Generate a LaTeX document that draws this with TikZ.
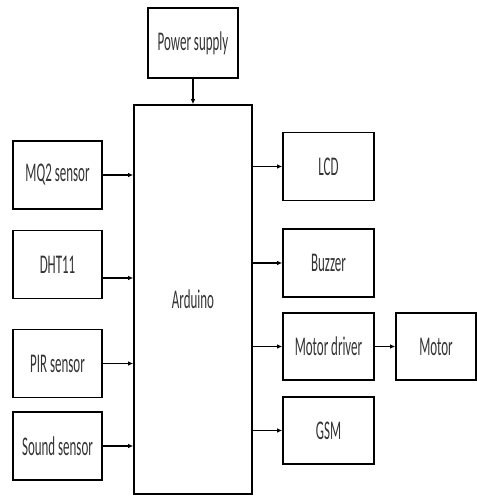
\documentclass[tikz,border=0pt]{standalone}
\usepackage{fontspec}
\setmainfont{Carlito}[FakeStretch=0.48]
\usetikzlibrary{arrows.meta}

\begin{document}
\begin{tikzpicture}[x=1pt, y=-1pt,
  blockbox/.style={draw, line width=1.6pt, align=center, minimum width=89pt,
    minimum height=68pt, inner sep=0pt, text=black!80, font=\fontsize{27}{30}\selectfont},
  flowarrow/.style={-{Latex[length=5pt,width=4.5pt]}, line width=1.6pt}
]
  \useasboundingbox (0,0) rectangle (477,496);

  \node[blockbox, minimum width=90pt, minimum height=70pt] (power) at (193,43) {Power supply};
  \node[blockbox, minimum width=118pt, minimum height=389pt] (arduino) at (193,299.5) {Arduino};

  % sensors
  \node[blockbox] (mq2) at (57.5,175) {MQ2 sensor};
  \node[blockbox] (dht) at (57.5,264.5) {DHT11};
  \node[blockbox] (pir) at (57.5,363.5) {PIR sensor};
  \node[blockbox] (sound) at (57.5,446) {Sound sensor};

  % outputs
  \node[blockbox, minimum width=91pt] (lcd) at (328.5,166.5) {LCD};
  \node[blockbox, minimum width=91pt] (buzzer) at (328.5,263) {Buzzer};
  \node[blockbox, minimum width=91pt, minimum height=67pt] (driver) at (328.5,346.5) {Motor driver};
  \node[blockbox, minimum width=91pt, minimum height=67pt] (gsm) at (328.5,430.5) {GSM};
  \node[blockbox, minimum width=80pt, minimum height=67pt] (motor) at (436,346.5) {Motor};

  \draw[flowarrow] (power) -- (arduino);
  \draw[flowarrow] (mq2) -- (mq2 -| arduino.west);
  \draw[flowarrow] ([yshift=-13.5pt]dht.east) -- ([yshift=-13.5pt]dht.east -| arduino.west);
  \draw[flowarrow] (pir) -- (pir -| arduino.west);
  \draw[flowarrow] (sound) -- (sound -| arduino.west);
  \draw[flowarrow] (lcd -| arduino.east) -- (lcd);
  \draw[flowarrow] (buzzer -| arduino.east) -- (buzzer);
  \draw[flowarrow] (driver -| arduino.east) -- (driver);
  \draw[flowarrow] (gsm -| arduino.east) -- (gsm);
  \draw[flowarrow] (driver) -- (motor);
\end{tikzpicture}
\end{document}
